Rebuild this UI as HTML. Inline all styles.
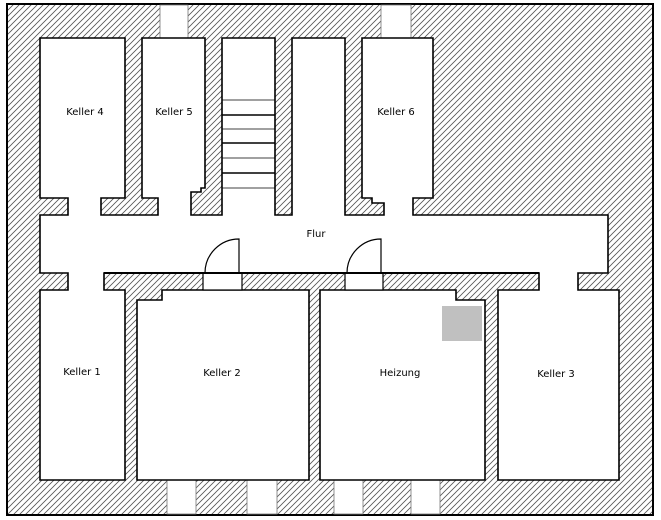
<!DOCTYPE html>
<html><head><meta charset="utf-8"><style>
html,body{margin:0;padding:0;background:#fff;}
svg{display:block;}
text{font-family:"DejaVu Sans","Liberation Sans",sans-serif;font-size:10px;fill:#000;}
</style></head><body>
<svg width="661" height="520" viewBox="0 0 661 520" xmlns="http://www.w3.org/2000/svg">
<defs>
<pattern id="h" patternUnits="userSpaceOnUse" width="6" height="6">
<path d="M-1,7 L7,-1 M-1,1 L1,-1 M5,7 L7,5" stroke="#555" stroke-width="0.8"/>
</pattern>
</defs>
<rect x="0" y="0" width="661" height="520" fill="#fff"/>
<rect x="7" y="4" width="646" height="511" fill="url(#h)" stroke="#000" stroke-width="2"/>
<!-- windows -->
<g fill="#fff" stroke="#777" stroke-width="0.8">
<rect x="160" y="5" width="28" height="33"/>
<rect x="381" y="5" width="30" height="33"/>
<rect x="167" y="480" width="29" height="34"/>
<rect x="247" y="480" width="30" height="34"/>
<rect x="334" y="480" width="29" height="34"/>
<rect x="411" y="480" width="29" height="34"/>
</g>
<!-- main corridor polygon -->
<path fill="#fff" stroke="#000" stroke-width="1.6" d="M40,215 L68,215 L68,198 L40,198 L40,38 L125,38 L125,198 L101,198 L101,215 L158,215 L158,198 L142,198 L142,38 L205,38 L205,188 L201,188 L201,192 L191,192 L191,215 L222,215 L222,38 L275,38 L275,215 L292,215 L292,38 L345,38 L345,215 L384,215 L384,203 L372,203 L372,198 L362,198 L362,38 L433,38 L433,198 L413,198 L413,215 L608,215 L608,273 L578,273 L578,290 L619,290 L619,480 L498,480 L498,290 L539,290 L539,273 L104,273 L104,290 L125,290 L125,480 L40,480 L40,290 L68,290 L68,273 L40,273 Z"/>
<!-- Keller 2 -->
<path fill="#fff" stroke="#000" stroke-width="1.6" d="M137,300 L162,300 L162,290 L309,290 L309,480 L137,480 Z"/>
<!-- Heizung -->
<path fill="#fff" stroke="#000" stroke-width="1.6" d="M320,290 L456,290 L456,300 L485,300 L485,480 L320,480 Z"/>
<rect x="442" y="306" width="40" height="35" fill="#c0c0c0"/>
<!-- door openings -->
<g fill="#fff" stroke="#000" stroke-width="1.2">
<rect x="203" y="273" width="39" height="17"/>
<rect x="345" y="273" width="38" height="17"/>
</g>
<line x1="104" y1="273" x2="539" y2="273" stroke="#000" stroke-width="2"/>
<!-- door swings -->
<g fill="none" stroke="#000" stroke-width="1.2">
<path d="M205,273 A34,34 0 0 1 239,239 L239,273"/>
<path d="M347,273 A34,34 0 0 1 381,239 L381,273"/>
</g>
<!-- stairs -->
<g stroke="#000">
<line x1="222" y1="100" x2="275" y2="100" stroke-width="0.8"/>
<line x1="222" y1="115" x2="275" y2="115" stroke-width="1.6"/>
<line x1="222" y1="129" x2="275" y2="129" stroke-width="0.8"/>
<line x1="222" y1="143" x2="275" y2="143" stroke-width="1.6"/>
<line x1="222" y1="158" x2="275" y2="158" stroke-width="0.8"/>
<line x1="222" y1="173" x2="275" y2="173" stroke-width="1.6"/>
<line x1="222" y1="188" x2="275" y2="188" stroke-width="0.8"/>
</g>
<g text-anchor="middle">
<text x="85" y="115">Keller 4</text>
<text x="174" y="115">Keller 5</text>
<text x="396" y="115">Keller 6</text>
<text x="316" y="237">Flur</text>
<text x="82" y="375">Keller 1</text>
<text x="222" y="376">Keller 2</text>
<text x="400" y="376">Heizung</text>
<text x="556" y="377">Keller 3</text>
</g>
</svg>
</body></html>
